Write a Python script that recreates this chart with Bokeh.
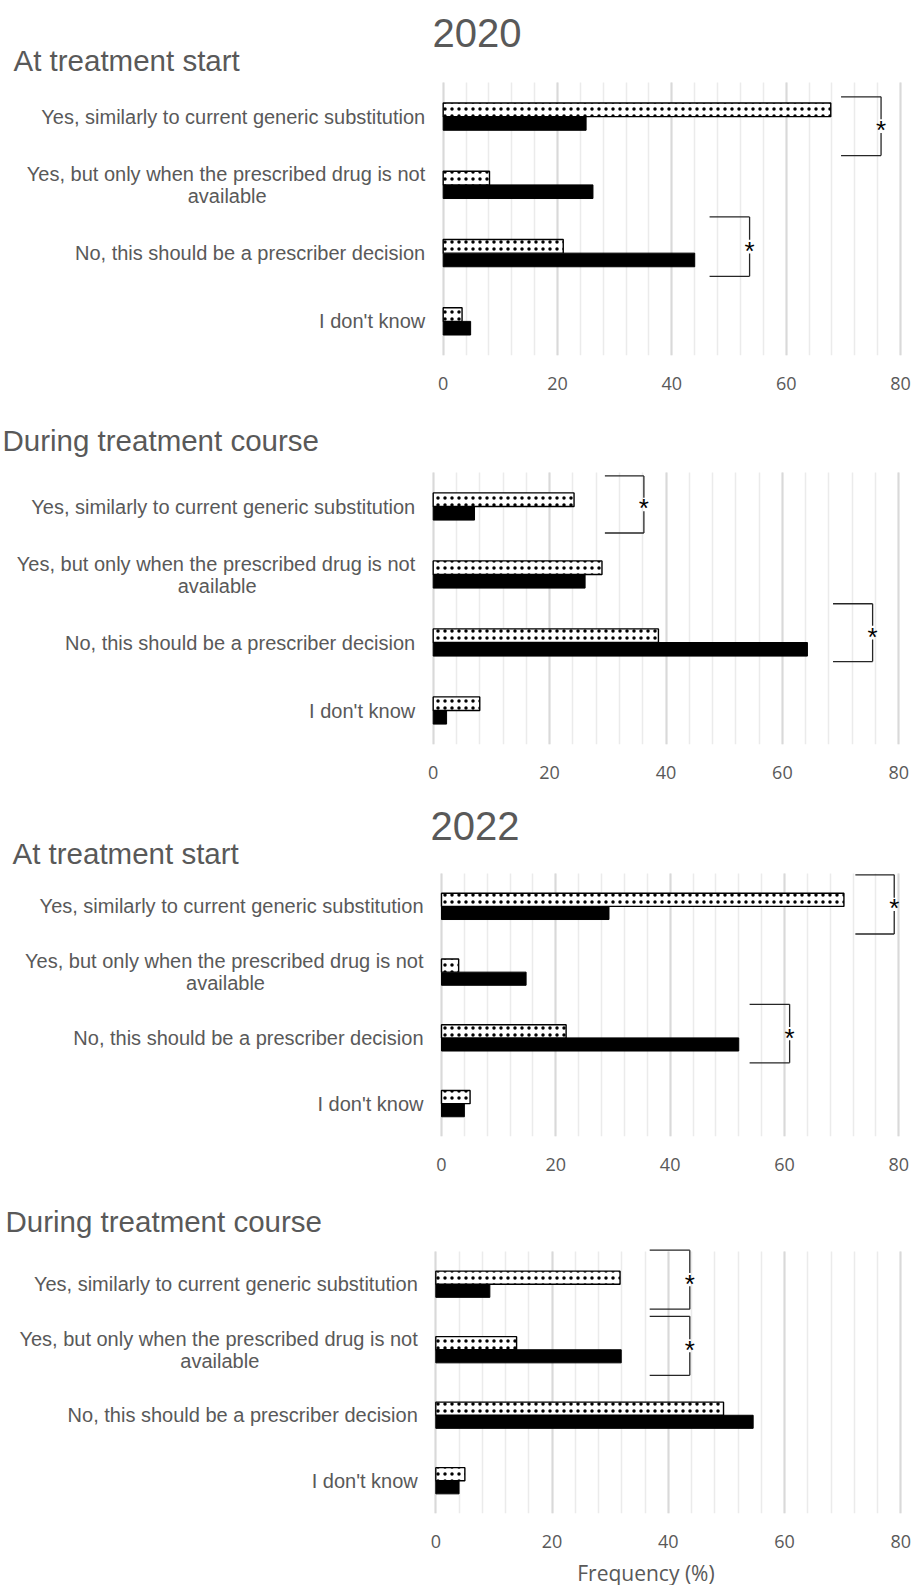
from bokeh.plotting import figure
from bokeh.models import Range1d, FixedTicker, Label, ColumnDataSource
from bokeh.layouts import column
from bokeh.embed import file_html
from bokeh.resources import INLINE
from bokeh.core.properties import value
import numpy as np

# ---------------- data ----------------
categories = [
    "Yes, similarly to current generic substitution",
    "Yes, but only when the prescribed drug is not\navailable",
    "No, this should be a prescriber decision",
    "I don't know",
]
x_ticks = [0, 20, 40, 60, 80]
x_minor_ticks = list(range(0, 81, 4))

year_titles = ["2020", "", "2022", ""]
section_titles = ["At treatment start", "During treatment course",
                  "At treatment start", "During treatment course"]
x_axis_title = "Frequency (%)"

start_2020_dotted = [67.8, 8.1, 21.0, 3.3]
start_2020_solid = [25.0, 26.2, 44.0, 4.8]
course_2020_dotted = [24.2, 29.0, 38.7, 8.0]
course_2020_solid = [7.1, 26.1, 64.3, 2.3]
start_2022_dotted = [70.4, 3.0, 21.8, 5.0]
start_2022_solid = [29.3, 14.8, 52.0, 4.0]
course_2022_dotted = [31.7, 13.9, 49.5, 5.0]
course_2022_solid = [9.3, 31.9, 54.6, 4.0]

# significance brackets: category index, x from, x to, top / bottom offset (category-band units)
brackets_start_2020 = [(0, 69.6, 76.6, 0.29, -0.57), (2, 46.6, 53.6, 0.53, -0.34)]
brackets_course_2020 = [(0, 29.5, 36.2, 0.45, -0.39), (2, 68.7, 75.5, 0.57, -0.28)]
brackets_start_2022 = [(0, 72.4, 79.2, 0.48, -0.42), (2, 53.9, 60.9, 0.51, -0.38)]
brackets_course_2022 = [(0, 36.8, 43.7, 0.52, -0.38), (1, 36.8, 43.7, 0.51, -0.39)]

# ---------------- layout ----------------
W = 913
RIGHT = 5
TEXT = "#595959"
# H: figure height; top/bottom: pixel rows (within figure) of the bar area
panels = [
    dict(d=start_2020_dotted, s=start_2020_solid, b=brackets_start_2020,
         H=410, top=82, bottom=355, zero=442.7, eighty=900.0,
         year_x=432, year_base=32, sec_x=13, sec_base=60),
    dict(d=course_2020_dotted, s=course_2020_solid, b=brackets_course_2020,
         H=390, top=62, bottom=334, zero=432.7, eighty=898.3,
         year_x=0, year_base=0, sec_x=2, sec_base=30),
    dict(d=start_2022_dotted, s=start_2022_solid, b=brackets_start_2022,
         H=390, top=73, bottom=336, zero=441.0, eighty=898.3,
         year_x=430, year_base=25.5, sec_x=12, sec_base=52.5),
    dict(d=course_2022_dotted, s=course_2022_solid, b=brackets_course_2022,
         H=368, top=61, bottom=323, zero=435.3, eighty=900.3,
         year_x=0, year_base=0, sec_x=5, sec_base=31),
]
FOOT_H = 27          # strip under the last panel that carries the x-axis title
FOOT_X = 649         # centre of the x-axis title (px)
FOOT_Y = 13          # vertical centre of the x-axis title within the strip (from bottom)

n_cat = len(categories)
positions = np.arange(n_cat - 1, -1, -1).astype(float)  # top category highest
BAR_H = 0.2
LABEL_GAP = 18
LINE_GAP = 22
WRAP_HALF = 198
LABEL_FS = "20px"

figs = []
for i, cfg in enumerate(panels):
    fw = W - RIGHT
    scale = (cfg["eighty"] - cfg["zero"]) / 80.0
    xs = -cfg["zero"] / scale
    xe = xs + fw / scale
    frame_h = cfg["bottom"]
    band = (cfg["bottom"] - cfg["top"]) / n_cat
    y0 = -0.5
    y1 = y0 + frame_h / band

    p = figure(width=W, height=cfg["H"], x_range=Range1d(xs, xe),
               y_range=Range1d(y0, y1), title=None,
               output_backend="svg", toolbar_location=None,
               y_axis_location=None,
               min_border_left=0, min_border_right=RIGHT,
               min_border_top=0, min_border_bottom=cfg["H"] - cfg["bottom"])
    p.outline_line_color = None
    p.ygrid.visible = False
    p.xgrid.ticker = FixedTicker(ticks=x_ticks, minor_ticks=x_minor_ticks)
    p.xgrid.bounds = (x_ticks[0], x_ticks[-1])
    p.xgrid.cross_bounds = (-0.5, n_cat - 0.5)
    p.xgrid.grid_line_color = "#d9d9d9"
    p.xgrid.grid_line_width = 2
    p.xgrid.minor_grid_line_color = "#ebebeb"
    p.xgrid.minor_grid_line_width = 1.5

    ax = p.xaxis[0]
    ax.ticker = FixedTicker(ticks=x_ticks)
    ax.axis_line_color = None
    ax.major_tick_line_color = None
    ax.minor_tick_line_color = None
    ax.major_tick_out = 0
    ax.major_tick_in = 0
    ax.major_label_standoff = 21
    ax.major_label_text_font = "Open Sans"
    ax.major_label_text_font_size = "18px"
    ax.major_label_text_color = TEXT

    src = ColumnDataSource(dict(
        y_d=positions + BAR_H / 2, y_s=positions - BAR_H / 2,
        dotted=cfg["d"], solid=cfg["s"]))
    p.hbar(y="y_s", left=0, right="solid", height=BAR_H, source=src,
           fill_color="black", line_color="black", line_width=1)
    p.hbar(y="y_d", left=0, right="dotted", height=BAR_H, source=src,
           fill_color="white", line_color="black", line_width=1.4,
           hatch_pattern="dot", hatch_color="black", hatch_scale=7,
           hatch_weight=0.5)

    # category labels
    split = [c.split("\n") for c in categories]
    first = ColumnDataSource(dict(
        x=[0.0] * n_cat, y=positions,
        text=[s[0] for s in split],
        yoff=[-(len(s) - 1) * LINE_GAP / 2 for s in split]))
    p.text(x="x", y="y", text="text", y_offset="yoff", x_offset=-LABEL_GAP,
           source=first, text_align="right", text_baseline="middle",
           text_font=value("Liberation Sans"), text_font_size=LABEL_FS,
           text_color=TEXT)
    ex_y, ex_t, ex_off = [], [], []
    for k, s in enumerate(split):
        for j, line in enumerate(s[1:], start=1):
            ex_y.append(positions[k])
            ex_t.append(line)
            ex_off.append(-(len(s) - 1) * LINE_GAP / 2 + j * LINE_GAP)
    if ex_t:
        p.text(x=[0.0] * len(ex_t), y=ex_y, text=ex_t, y_offset=ex_off,
               x_offset=-LABEL_GAP - WRAP_HALF, text_align="center",
               text_baseline="middle", text_font=value("Liberation Sans"),
               text_font_size=LABEL_FS, text_color=TEXT)

    # significance brackets
    bx0, bx1, by, sx0, sy0, sx1, sy1, mx, my = [], [], [], [], [], [], [], [], []
    gap = 0.1
    for (c, x0, x1, top, bot) in cfg["b"]:
        yc = positions[c]
        ytop, ybot = yc + top, yc + bot
        mid = (ytop + ybot) / 2
        for yy in (ytop, ybot):
            bx0.append(x0); bx1.append(x1); by.append(yy)
        sx0 += [x1, x1]; sx1 += [x1, x1]
        sy0 += [ytop, mid - gap]; sy1 += [mid + gap, ybot]
        mx.append(x1); my.append(mid)
    p.segment(x0=bx0, y0=by, x1=bx1, y1=by, line_color="#262626", line_width=1.3)
    p.segment(x0=sx0, y0=sy0, x1=sx1, y1=sy1, line_color="#262626", line_width=1.3)
    p.text(x=mx, y=my, text=["*"] * len(mx), text_align="center",
           text_baseline="alphabetic", y_offset=4,
           text_font=value("Liberation Sans"), text_font_size="26px",
           text_color="black")

    # titles (inside the extended frame, above the bar area)
    if year_titles[i]:
        p.add_layout(Label(x=cfg["year_x"], y=frame_h - cfg["year_base"],
                           x_units="screen", y_units="screen", text=year_titles[i],
                           text_font="Liberation Sans", text_font_size="40px",
                           text_color=TEXT, text_baseline="alphabetic"))
    p.add_layout(Label(x=cfg["sec_x"], y=frame_h - cfg["sec_base"],
                       x_units="screen", y_units="screen", text=section_titles[i],
                       text_font="Liberation Sans", text_font_size="29.5px",
                       text_color=TEXT, text_baseline="alphabetic"))
    figs.append(p)

# footer strip holding the x-axis title (pixel-scaled ranges)
foot = figure(width=W, height=FOOT_H, x_range=Range1d(0, W), y_range=Range1d(0, FOOT_H),
              title=None, output_backend="svg", toolbar_location=None,
              x_axis_location=None, y_axis_location=None,
              min_border_left=0, min_border_right=0, min_border_top=0,
              min_border_bottom=0)
foot.outline_line_color = None
foot.xgrid.visible = False
foot.ygrid.visible = False
foot.text(x=[FOOT_X], y=[FOOT_Y], text=[x_axis_title], text_align="center",
          text_baseline="middle", text_font=value("Open Sans"),
          text_font_size="21px", text_color=TEXT)
figs.append(foot)

layout = column(*figs, spacing=0)
open("out.html", "w").write(file_html(layout, INLINE))
